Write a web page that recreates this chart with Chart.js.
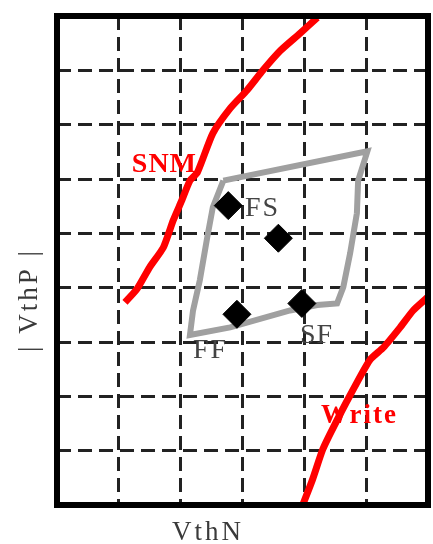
<!DOCTYPE html>
<html lang="en">
<head>
    <meta charset="UTF-8">
    <title>SRAM corner plot</title>
    <script src="https://cdn.jsdelivr.net/npm/chart.js"></script>
    <style>
        body { margin: 0; background: #fff; }
        #wrap { width: 433px; height: 544px; }
    </style>
</head>
<body>
<div id="wrap"><canvas id="cornerChart" width="433" height="544"></canvas></div>

<script>
    // curves (grid units: 6 columns x 9 rows)
    const snmX = [1.10, 1.29, 1.50, 1.72, 1.88, 2.02, 2.15, 2.27, 2.52, 2.80, 3.07, 3.33, 3.61, 3.93, 4.21];
    const snmY = [3.73, 3.97, 4.38, 4.74, 5.24, 5.61, 5.97, 6.12, 6.84, 7.30, 7.63, 8.00, 8.36, 8.68, 8.97];

    const writeX = [5.99, 5.76, 5.55, 5.28, 5.06, 4.74, 4.47, 4.30, 4.13, 3.96];
    const writeY = [3.82, 3.58, 3.27, 2.90, 2.67, 2.02, 1.43, 1.03, 0.46, -0.04];

    const boxX = [2.69, 5.02, 4.87, 4.85, 4.74, 4.63, 4.53, 4.21, 3.77, 2.80, 2.15, 2.20, 2.31, 2.43, 2.52, 2.69];
    const boxY = [5.97, 6.51, 5.97, 5.37, 4.63, 4.01, 3.71, 3.68, 3.58, 3.27, 3.13, 3.58, 4.14, 4.93, 5.48, 5.97];

    const cornerNames = ['FS', 'TT', 'SF', 'FF'];
    const cornerX = [2.77, 3.58, 3.96, 2.91];
    const cornerY = [5.51, 4.91, 3.71, 3.51];

    const toPoints = (xs, ys) => xs.map((x, i) => ({ x: x, y: ys[i] }));

    const RED = '#ff0000';
    const SERIF = '"Liberation Serif", "DejaVu Serif", serif';

    // frame + text labels
    const decorations = {
        id: 'decorations',
        afterDatasetsDraw(chart) {
            const { ctx, chartArea: a, scales: { x, y } } = chart;
            ctx.save();
            ctx.strokeStyle = '#000';
            ctx.lineWidth = 6;
            ctx.setLineDash([]);
            ctx.strokeRect(a.left, a.top, a.right - a.left, a.bottom - a.top);

            const put = (txt, dx, dy, font, color, spacing) => {
                ctx.font = font;
                ctx.fillStyle = color;
                ctx.letterSpacing = spacing;
                ctx.textAlign = 'left';
                ctx.textBaseline = 'alphabetic';
                ctx.fillText(txt, x.getPixelForValue(dx), y.getPixelForValue(dy));
            };
            put('SNM', 1.21, 6.12, 'bold 28px ' + SERIF, RED, '1px');
            put('Write', 4.27, 1.51, 'bold 27px ' + SERIF, RED, '2px');
            put('FS', 3.04, 5.31, '28px ' + SERIF, '#444', '2px');
            put('SF', 3.93, 2.98, '28px ' + SERIF, '#444', '1px');
            put('FF', 2.20, 2.70, '28px ' + SERIF, '#444', '2px');

            // axis titles
            ctx.fillStyle = '#3a3a3a';
            ctx.font = '27px ' + SERIF;
            ctx.letterSpacing = '3px';
            ctx.textAlign = 'center';
            ctx.textBaseline = 'alphabetic';
            ctx.fillText('VthN', 208, 540);
            ctx.translate(37, 300);
            ctx.rotate(-Math.PI / 2);
            ctx.fillText('| VthP |', 0, 0);
            ctx.restore();
        }
    };

    const gridOpts = {
        color: '#222',
        lineWidth: 3,
        drawTicks: false
    };

    new Chart(document.getElementById('cornerChart'), {
        type: 'scatter',
        data: {
            datasets: [
                {
                    label: 'Corners',
                    data: toPoints(cornerX, cornerY),
                    pointStyle: 'rectRot',
                    pointRadius: 14,
                    backgroundColor: '#000',
                    borderColor: '#000',
                    borderWidth: 1,
                    showLine: false
                },
                {
                    label: 'Corner box',
                    data: toPoints(boxX, boxY),
                    showLine: true,
                    borderColor: '#a0a0a0',
                    borderWidth: 6,
                    pointRadius: 0,
                    tension: 0
                },
                {
                    label: 'SNM',
                    data: toPoints(snmX, snmY),
                    showLine: true,
                    borderColor: RED,
                    borderWidth: 7,
                    pointRadius: 0,
                    tension: 0.2
                },
                {
                    label: 'Write',
                    data: toPoints(writeX, writeY),
                    showLine: true,
                    borderColor: RED,
                    borderWidth: 7,
                    pointRadius: 0,
                    tension: 0.2
                }
            ]
        },
        options: {
            responsive: false,
            animation: false,
            layout: { autoPadding: false, padding: { left: 57, top: 16, right: 5, bottom: 39 } },
            plugins: {
                legend: { display: false },
                tooltip: { enabled: false }
            },
            scales: {
                x: {
                    type: 'linear',
                    min: 0,
                    max: 6,
                    ticks: { display: false, stepSize: 1 },
                    grid: gridOpts,
                    border: { display: false, dash: [14, 7] },
                    afterFit: s => { s.height = 0; }
                },
                y: {
                    type: 'linear',
                    min: 0,
                    max: 9,
                    ticks: { display: false, stepSize: 1 },
                    grid: gridOpts,
                    border: { display: false, dash: [14, 7] },
                    afterFit: s => { s.width = 0; }
                }
            }
        },
        plugins: [decorations]
    });
</script>
</body>
</html>
